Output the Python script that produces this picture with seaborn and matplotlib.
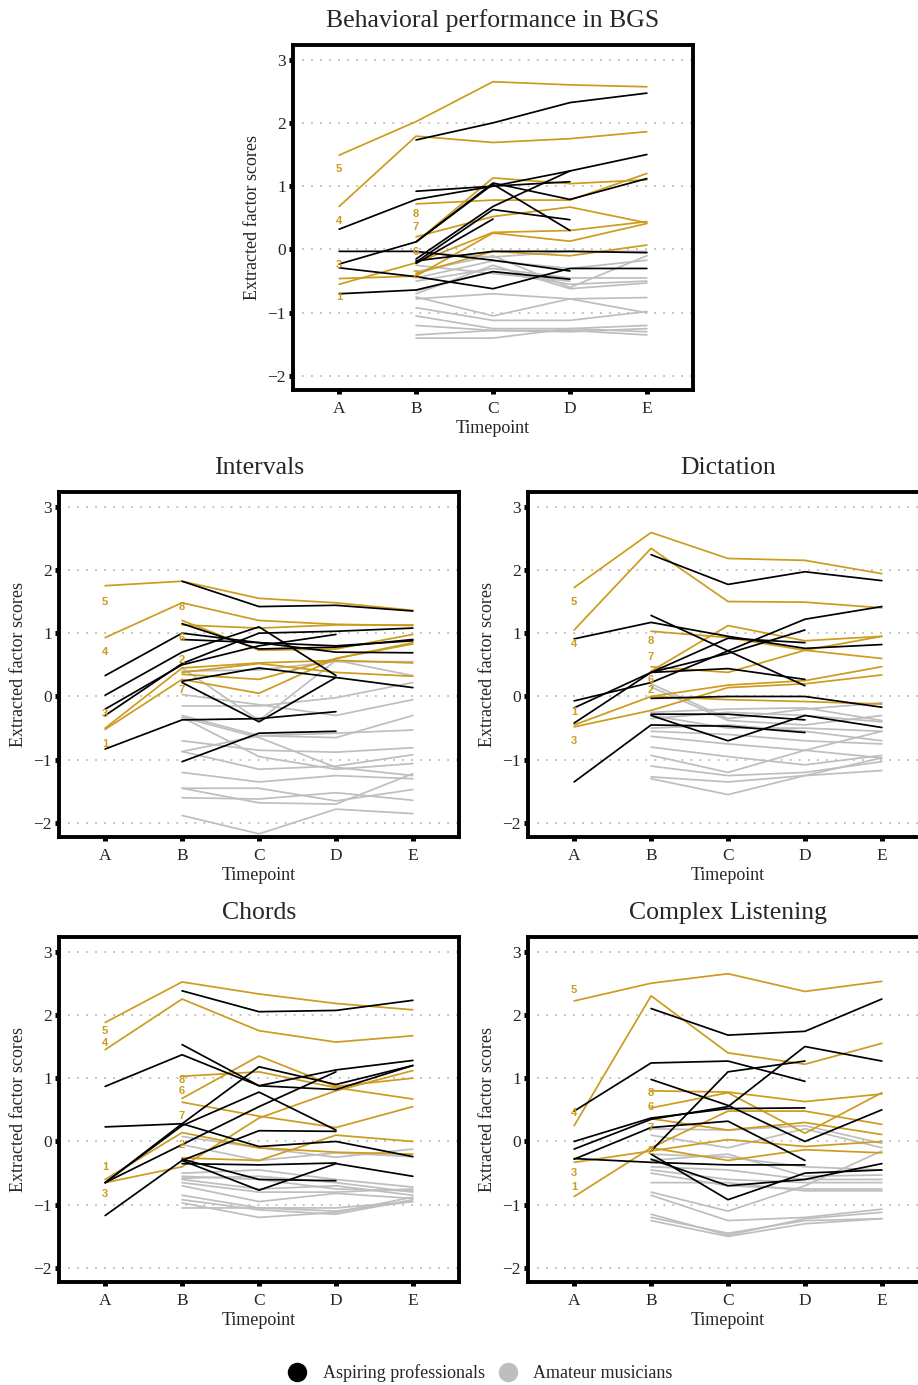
import numpy as np
import pandas as pd
import matplotlib
matplotlib.use('Agg')
import matplotlib.pyplot as plt
import seaborn as sns
from matplotlib.lines import Line2D

N = np.nan
timepoints = ['A', 'B', 'C', 'D', 'E']
panel_titles = ['Behavioral performance in BGS', 'Intervals', 'Dictation', 'Chords', 'Complex Listening']
legend_labels = ['Aspiring professionals', 'Amateur musicians']

# ---------------- Behavioral performance in BGS ----------------
bgs_orange = [
    [-0.55, -0.21, 0.27, 0.30, 0.44],
    [N, -0.38, -0.03, -0.10, 0.07],
    [-0.46, -0.42, 0.26, 0.13, 0.41],
    [0.68, 1.79, 1.69, 1.75, 1.86],
    [1.49, 2.02, 2.65, 2.60, 2.57],
    [N, 0.12, 1.13, 1.04, 1.10],
    [N, 0.20, 0.52, 0.67, 0.42],
    [N, 0.72, 0.78, 0.78, 1.20],
]
bgs_labels = [-0.75, -0.40, -0.24, 0.45, 1.27, -0.04, 0.35, 0.56]
bgs_black = [
    [N, 1.73, 2.00, 2.32, 2.47],
    [0.32, 0.79, 1.00, 1.24, 1.50],
    [N, 0.92, 1.00, 1.07, N],
    [N, 0.12, 1.05, 0.79, 1.12],
    [N, -0.15, 0.68, 1.24, N],
    [N, -0.20, 0.63, 0.47, N],
    [N, -0.22, 0.48, N, N],
    [-0.23, 0.12, 1.03, 0.30, N],
    [-0.03, -0.03, -0.17, -0.34, N],
    [-0.29, -0.43, -0.62, -0.30, -0.30],
    [-0.70, -0.64, -0.35, -0.47, N],
    [N, -0.18, -0.03, -0.03, -0.05],
]
bgs_gray = [
    [N, -0.05, -0.12, -0.03, -0.03],
    [N, -0.35, -0.10, -0.60, -0.10],
    [N, -0.45, -0.18, -0.30, -0.17],
    [N, -0.50, -0.30, -0.45, -0.45],
    [N, -0.65, -0.35, -0.55, -0.50],
    [N, -0.70, -0.25, -0.62, -0.53],
    [N, -0.78, -0.70, -0.78, -0.76],
    [N, -0.75, -1.05, -0.78, -1.00],
    [N, -0.92, -1.12, -1.12, -0.98],
    [N, -1.05, -1.25, -1.25, -1.20],
    [N, -1.20, -1.28, -1.30, -1.25],
    [N, -1.35, -1.28, -1.28, -1.35],
    [N, -1.40, -1.40, -1.25, -1.30],
    [N, -0.25, -0.38, -0.50, N],
]

# ---------------- Intervals ----------------
int_orange = [
    [-0.52, 0.27, 0.05, 0.60, 0.85],
    [N, 0.35, 0.27, 0.60, 0.83],
    [-0.50, 0.45, 0.53, 0.57, 0.53],
    [0.93, 1.48, 1.20, 1.14, 1.12],
    [1.75, 1.82, 1.55, 1.48, 1.36],
    [N, 1.13, 1.08, 1.13, 1.13],
    [N, 0.38, 0.52, 0.38, 0.32],
    [N, 1.20, 0.73, 0.75, 0.98],
]
int_labels = [-0.75, 0.58, -0.27, 0.70, 1.50, 0.93, 0.11, 1.42]
int_black = [
    [N, 1.82, 1.42, 1.44, 1.35],
    [N, 1.15, 0.75, 0.78, 0.90],
    [0.33, 1.00, 0.85, 0.70, 0.69],
    [0.02, 0.70, 1.10, 0.33, N],
    [-0.20, 0.50, 0.80, 0.98, N],
    [-0.30, 0.52, 1.00, 1.03, 1.08],
    [N, 0.90, 0.85, 0.80, 0.88],
    [N, 0.24, 0.45, 0.30, 0.14],
    [N, 0.22, -0.40, 0.30, N],
    [-0.83, -0.37, -0.35, -0.24, N],
    [N, -1.03, -0.58, -0.55, N],
]
int_gray = [
    [N, 0.40, 0.42, 0.55, 0.55],
    [N, 0.45, -0.38, 0.57, 0.33],
    [N, 0.03, -0.13, -0.30, -0.05],
    [N, -0.15, -0.15, -0.02, 0.22],
    [N, -0.30, -0.62, -0.65, -0.30],
    [N, -0.33, -0.65, -1.12, -1.25],
    [N, -0.70, -0.85, -0.88, -0.81],
    [N, -0.87, -0.62, -0.58, -0.53],
    [N, -0.87, -1.15, -1.10, -0.92],
    [N, -1.20, -1.35, -1.25, -1.30],
    [N, -1.45, -1.45, -1.65, -1.47],
    [N, -1.60, -1.62, -1.52, -1.64],
    [N, -1.88, -2.17, -1.78, -1.85],
    [N, -1.45, -1.68, -1.70, -1.22],
    [N, -0.33, -0.95, -1.15, -1.06],
]

# ---------------- Dictation ----------------
dic_orange = [
    [-0.45, 0.00, 0.18, 0.25, 0.47],
    [N, 0.00, -0.05, -0.08, -0.12],
    [-0.48, -0.22, 0.14, 0.20, 0.34],
    [1.05, 2.34, 1.50, 1.49, 1.40],
    [1.72, 2.59, 2.18, 2.15, 1.94],
    [N, 0.40, 1.12, 0.88, 0.95],
    [N, 0.47, 0.38, 0.73, 0.95],
    [N, 1.03, 0.93, 0.73, 0.60],
]
dic_labels = [-0.25, 0.11, -0.70, 0.83, 1.50, 0.26, 0.62, 0.87]
dic_black = [
    [N, 2.24, 1.77, 1.97, 1.83],
    [0.91, 1.17, 0.95, 0.76, 0.82],
    [N, 1.28, 0.72, 0.17, N],
    [-0.07, 0.22, 0.72, 1.22, 1.42],
    [-0.18, 0.38, 0.92, 0.85, N],
    [-0.42, 0.38, 0.68, 1.05, N],
    [N, 0.38, 0.44, 0.27, N],
    [N, -0.03, 0.00, 0.00, -0.17],
    [N, -0.30, -0.70, -0.30, -0.49],
    [-1.35, -0.45, -0.47, -0.57, N],
    [N, -0.28, -0.28, -0.37, N],
]
dic_gray = [
    [N, 0.20, -0.35, -0.20, -0.10],
    [N, 0.15, -0.38, -0.45, -0.30],
    [N, -0.25, -0.20, -0.18, -0.38],
    [N, -0.30, -0.50, -0.50, -0.55],
    [N, -0.50, -0.45, -0.55, -0.70],
    [N, -0.55, -0.60, -0.70, -0.75],
    [N, -0.63, -0.75, -0.85, -0.55],
    [N, -0.80, -0.95, -1.08, -0.93],
    [N, -0.93, -1.20, -0.85, -0.97],
    [N, -1.10, -1.25, -1.20, -1.03],
    [N, -1.27, -1.35, -1.25, -1.17],
    [N, -1.30, -1.55, -1.25, -0.97],
    [N, -0.35, -0.25, -0.30, -0.40],
]

# ---------------- Chords ----------------
cho_orange = [
    [-0.60, 0.14, -0.10, -0.17, -0.20],
    [N, -0.26, -0.30, 0.10, 0.00],
    [-0.65, -0.40, 0.37, 0.80, 1.12],
    [1.45, 2.25, 1.75, 1.57, 1.67],
    [1.88, 2.52, 2.33, 2.18, 2.08],
    [N, 0.68, 1.35, 0.87, 1.00],
    [N, 0.62, 0.40, 0.22, 0.55],
    [N, 1.03, 1.10, 0.85, 0.67],
]
cho_labels = [-0.40, -0.05, -0.83, 1.55, 1.75, 0.80, 0.40, 0.97]
cho_black = [
    [N, 2.38, 2.05, 2.07, 2.23],
    [0.87, 1.37, 0.88, 0.82, 1.20],
    [N, 1.53, 0.88, 1.13, 1.28],
    [0.23, 0.28, -0.08, 0.00, -0.24],
    [-0.65, 0.28, 1.18, 0.90, 1.20],
    [-0.65, -0.05, 0.55, 1.10, N],
    [-0.65, 0.25, 0.78, 0.18, N],
    [N, -0.30, 0.17, 0.16, N],
    [-1.17, -0.30, -0.77, -0.35, -0.55],
    [N, -0.35, -0.37, -0.34, N],
    [N, -0.28, -0.60, -0.62, N],
]
cho_gray = [
    [N, 0.08, -0.10, -0.25, -0.12],
    [N, -0.05, -0.30, -0.18, -0.24],
    [N, -0.50, -0.45, -0.60, -0.72],
    [N, -0.55, -0.60, -0.75, -0.78],
    [N, -0.60, -0.75, -0.70, -0.85],
    [N, -0.65, -0.80, -0.80, -0.75],
    [N, -0.70, -0.95, -0.82, -0.90],
    [N, -0.85, -1.05, -1.10, -0.95],
    [N, -0.92, -1.08, -1.15, -0.92],
    [N, -0.97, -1.20, -1.12, -0.88],
    [N, -1.05, -1.05, -1.05, -0.95],
    [N, -0.58, -0.55, -0.65, -0.80],
]

# ---------------- Complex Listening ----------------
cpx_orange = [
    [-0.87, -0.10, 0.48, 0.48, 0.27],
    [N, -0.10, -0.30, -0.13, -0.18],
    [-0.33, -0.15, 0.03, -0.08, 0.00],
    [0.25, 2.30, 1.40, 1.22, 1.55],
    [2.22, 2.50, 2.65, 2.37, 2.53],
    [N, 0.53, 0.77, 0.13, 0.77],
    [N, 0.36, 0.18, 0.30, 0.11],
    [N, 0.80, 0.78, 0.63, 0.75],
]
cpx_labels = [-0.72, -0.15, -0.50, 0.45, 2.40, 0.55, 0.22, 0.76]
cpx_black = [
    [N, 2.10, 1.68, 1.74, 2.25],
    [0.48, 1.24, 1.27, 0.95, N],
    [N, 0.98, 0.57, 0.00, 0.50],
    [0.00, 0.37, 0.52, 0.53, N],
    [-0.12, 0.35, 0.55, 1.50, 1.27],
    [-0.28, 0.22, 0.32, -0.30, N],
    [-0.27, -0.33, -0.37, -0.37, N],
    [N, -0.15, 1.10, 1.27, N],
    [N, -0.28, -0.70, -0.60, -0.35],
    [N, -0.20, -0.92, -0.50, -0.45],
]
cpx_gray = [
    [N, 0.20, 0.18, 0.25, -0.03],
    [N, 0.10, -0.10, 0.20, -0.10],
    [N, -0.20, -0.25, -0.40, -0.45],
    [N, -0.30, -0.20, -0.55, -0.53],
    [N, -0.40, -0.45, -0.60, -0.60],
    [N, -0.45, -0.60, -0.65, -0.65],
    [N, -0.50, -0.70, -0.75, -0.75],
    [N, -0.65, -0.65, -0.78, -0.78],
    [N, -0.80, -1.10, -0.70, -0.15],
    [N, -0.85, -1.25, -1.20, -1.07],
    [N, -1.15, -1.48, -1.22, -1.12],
    [N, -1.25, -1.50, -1.30, -1.22],
    [N, -1.20, -1.45, -1.25, -1.22],
]

ORANGE = '#CD9B1D'
GRAY = '#BEBEBE'
BLACK = '#000000'

sns.set_style('white')
plt.rcParams['font.family'] = ['Liberation Serif', 'DejaVu Serif']


def to_long(rows, group):
    recs = []
    for i, r in enumerate(rows):
        for t, v in enumerate(r):
            if not np.isnan(v):
                recs.append((f'{group}{i}', t, v))
    return pd.DataFrame(recs, columns=['sid', 't', 'v'])


W, H = 918, 1385
fig = plt.figure(figsize=(W / 100, H / 100), dpi=100)

def rect(left, top, w=400, h=345):
    return [left / W, 1 - (top + h) / H, w / W, h / H]

panel_rects = [rect(293, 45), rect(59, 492), rect(528, 492), rect(59, 937), rect(528, 937)]
panel_data = [
    (bgs_orange, bgs_black, bgs_gray, bgs_labels),
    (int_orange, int_black, int_gray, int_labels),
    (dic_orange, dic_black, dic_gray, dic_labels),
    (cho_orange, cho_black, cho_gray, cho_labels),
    (cpx_orange, cpx_black, cpx_gray, cpx_labels),
]

for title, r, (orng, blk, gry, labs) in zip(panel_titles, panel_rects, panel_data):
    ax = fig.add_axes(r)
    for y in range(-2, 4):
        ax.axhline(y, color='#BBBBBB', lw=1.3, ls=(0, (1, 4)), zorder=0)
    for rows, col, grp in ((gry, GRAY, 'g'), (orng, ORANGE, 'o'), (blk, BLACK, 'b')):
        df = to_long(rows, grp)
        sns.lineplot(data=df, x='t', y='v', units='sid', estimator=None,
                     color=col, lw=1.25, ax=ax, legend=False)
    for k, (row, ly) in enumerate(zip(orng, labs)):
        x0 = next(i for i, v in enumerate(row) if not np.isnan(v))
        ax.text(x0, ly, str(k + 1), ha='center', va='center', color=ORANGE,
                fontsize=8, fontweight='bold', family='Liberation Sans', zorder=5)
    ax.set_xlim(-0.6, 4.6)
    ax.set_ylim(-2.22, 3.23)
    ax.set_xticks(range(5))
    ax.set_xticklabels(timepoints)
    ax.set_yticks(range(-2, 4))
    ax.set_yticklabels(['\u22122', '\u22121', '0', '1', '2', '3'])
    ax.tick_params(axis='both', length=3, width=3.6, color='black',
                   labelsize=12.5, pad=2, direction='out', left=True, bottom=True)
    ax.tick_params(axis='x', pad=5)
    for s in ax.spines.values():
        s.set_linewidth(2.8)
        s.set_color('black')
    ax.set_xlabel('Timepoint', fontsize=13, labelpad=2)
    ax.set_ylabel('Extracted factor scores', fontsize=13, labelpad=5)
    ax.set_title(title, fontsize=18.5, pad=13)

handles = [Line2D([], [], marker='o', ls='none', markersize=13, color=BLACK),
           Line2D([], [], marker='o', ls='none', markersize=13, color=GRAY)]
fig.legend(handles, legend_labels, loc='center', bbox_to_anchor=(476 / W, 1 - 1373 / H),
           ncol=2, frameon=False, fontsize=13, handletextpad=0.4, columnspacing=0.3)

fig.savefig('out.png', dpi=100)
